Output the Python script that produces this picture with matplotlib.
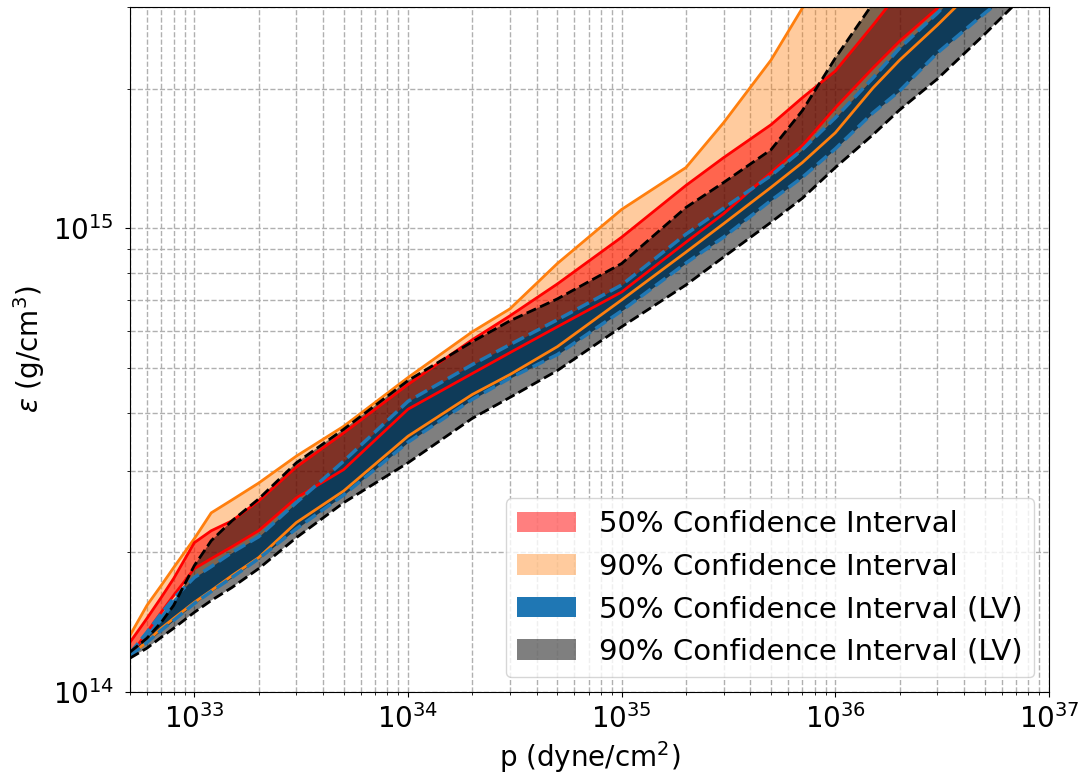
import numpy as np
import matplotlib
matplotlib.use('Agg')
import matplotlib.pyplot as plt

# pressure grid (dyne/cm^2)
p = np.array([5e32, 6e32, 7e32, 8e32, 1e33, 1.2e33, 1.5e33, 2e33, 3e33, 5e33,
              1e34, 2e34, 3e34, 5e34, 1e35, 2e35, 3e35, 5e35, 7e35, 1e36,
              1.5e36, 2e36, 3e36, 5e36, 7e36, 1e37])

# energy density bounds, in units of 1e14 g/cm^3
ci90_hi = [1.325, 1.537, 1.697, 1.854, 2.141, 2.434, 2.595, 2.822, 3.225, 3.741,
           4.765, 5.981, 6.702, 8.394, 10.98, 13.52, 16.89, 23.05, 29.80, 38.15,
           50.07, 61.0, 78.1, 105.1, 128.0, 156.0]
ci90_lo = [1.195, 1.286, 1.372, 1.441, 1.561, 1.655, 1.782, 1.949, 2.319, 2.714,
           3.561, 4.381, 4.836, 5.555, 7.006, 8.883, 10.23, 12.25, 13.85, 16.07,
           20.07, 23.05, 27.41, 34.56, 40.09, 46.49]
ci50_hi = [1.280, 1.441, 1.599, 1.756, 2.099, 2.227, 2.339, 2.582, 3.055, 3.619,
           4.604, 5.750, 6.474, 7.584, 9.566, 12.37, 14.20, 16.72, 19.11, 21.83,
           27.41, 32.41, 41.09, 55.26, 67.33, 82.07]
ci50_lo = [1.195, 1.345, 1.485, 1.615, 1.845, 1.939, 2.057, 2.227, 2.621, 3.018,
           4.072, 4.862, 5.392, 6.131, 7.287, 9.333, 10.75, 13.19, 15.07, 18.19,
           22.16, 25.32, 29.80, 38.15, 45.37, 53.93]
lv50_hi = [1.212, 1.345, 1.477, 1.591, 1.766, 1.864, 1.999, 2.162, 2.560, 3.146,
           4.233, 5.082, 5.612, 6.348, 7.546, 9.712, 11.05, 12.99, 14.77, 17.31,
           21.09, 24.46, 29.08, 37.23, 43.17, 50.07]
lv50_lo = [1.195, 1.280, 1.359, 1.427, 1.552, 1.647, 1.766, 1.939, 2.249, 2.660,
           3.456, 4.276, 4.752, 5.340, 6.637, 8.414, 9.568, 11.48, 12.87, 14.84,
           17.74, 19.78, 23.87, 29.08, 32.90, 38.95]
lv90_hi = [1.219, 1.306, 1.413, 1.537, 1.873, 2.120, 2.339, 2.608, 3.120, 3.686,
           4.694, 5.692, 6.315, 7.041, 8.394, 11.09, 12.55, 14.77, 17.92, 23.28,
           30.55, 38.15, 50.07, 70.78, 86.2, 105.1]
lv90_lo = [1.183, 1.243, 1.312, 1.372, 1.485, 1.575, 1.680, 1.845, 2.151, 2.560,
           3.120, 3.891, 4.317, 4.933, 6.131, 7.546, 8.667, 10.30, 11.60, 13.52,
           15.91, 18.00, 20.98, 26.21, 30.55, 35.96]

scale = 1e14
c90_hi, c90_lo = np.array(ci90_hi) * scale, np.array(ci90_lo) * scale
c50_hi, c50_lo = np.array(ci50_hi) * scale, np.array(ci50_lo) * scale
l50_hi, l50_lo = np.array(lv50_hi) * scale, np.array(lv50_lo) * scale
l90_hi, l90_lo = np.array(lv90_hi) * scale, np.array(lv90_lo) * scale

fig = plt.figure(figsize=(10.81, 7.75), dpi=100)
ax = fig.add_subplot(111)
fig.subplots_adjust(left=130/1081, right=1049/1081, bottom=83/775, top=768/775)

# fills
h90 = ax.fill_between(p, c90_lo, c90_hi, color='C1', alpha=0.4, lw=0,
                      label='90% Confidence Interval')
h50 = ax.fill_between(p, c50_lo, c50_hi, color='red', alpha=0.5, lw=0,
                      label='50% Confidence Interval')
hl50 = ax.fill_between(p, l50_lo, l50_hi, color='C0', lw=0,
                       label='50% Confidence Interval (LV)')
hl90 = ax.fill_between(p, l90_lo, l90_hi, color='k', alpha=0.5, lw=0,
                       label='90% Confidence Interval (LV)')

# boundaries
ax.plot(p, c90_hi, color='C1', lw=2)
ax.plot(p, c90_lo, color='C1', lw=2)
ax.plot(p, c50_hi, color='red', lw=2)
ax.plot(p, c50_lo, color='red', lw=2)
ax.plot(p, l50_hi, color='C0', lw=2.5, ls='--')
ax.plot(p, l50_lo, color='C0', lw=2.5, ls='--')
ax.plot(p, l90_hi, color='k', lw=2, ls='--')
ax.plot(p, l90_lo, color='k', lw=2, ls='--')

ax.set_xscale('log')
ax.set_yscale('log')
ax.set_xlim(5e32, 1e37)
ax.set_ylim(1e14, 3e15)
ax.grid(True, which='both', ls='--', color='#b0b0b0', lw=1)
ax.set_axisbelow(True)

ax.set_xlabel('p (dyne/cm$^2$)', fontsize=20)
ax.set_ylabel(r'$\varepsilon$ (g/cm$^3$)', fontsize=20)
ax.tick_params(axis='both', which='major', labelsize=20)
ax.tick_params(axis='x', which='major', pad=5)
ax.tick_params(axis='y', which='major', pad=8)

ax.legend(handles=[h50, h90, hl50, hl90], loc='lower right', fontsize=21)

fig.savefig('out.png', dpi=100)
